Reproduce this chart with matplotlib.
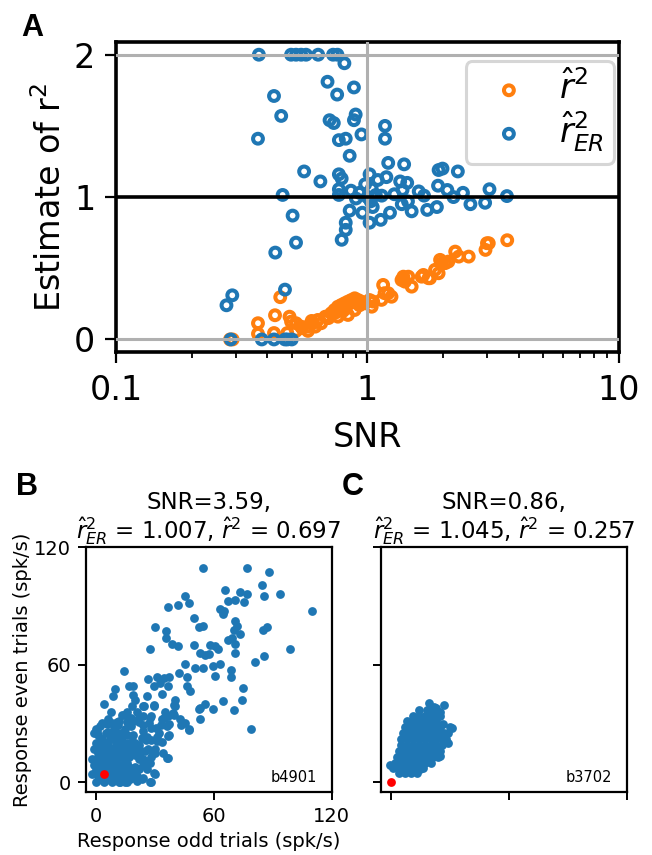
import matplotlib
matplotlib.use("Agg")
import matplotlib.pyplot as plt
import numpy as np

BLUE = "#1f77b4"
ORANGE = "#ff7f0e"

# ---- panel A: SNR vs estimates ----
snr_r2 = [0.284, 0.291, 0.367, 0.367, 0.429, 0.45, 0.425, 0.49, 0.497, 0.52, 0.545, 0.578,
          0.606, 0.48, 0.52, 0.55, 0.635, 0.655, 0.718, 0.74, 0.763, 0.787, 0.811, 0.837,
          0.863, 0.89, 0.918, 0.946, 0.975, 1.02, 1.054, 0.763, 0.837, 0.89, 0.70, 0.80,
          0.86, 0.96, 1.04, 1.138, 1.155, 1.17, 1.21, 1.247, 1.367, 1.39, 1.41, 1.455, 1.5,
          1.644, 1.67, 1.75, 1.775, 1.858, 1.92, 1.946, 1.976, 2.04, 2.10, 2.235, 2.31, 2.53,
          2.95, 2.99, 3.04, 3.6, 0.60, 0.68, 0.75, 0.82, 0.93, 0.58, 0.62]
r2 = [0.0, 0.0, 0.114, 0.04, 0.17, 0.297, 0.045, 0.16, 0.125, 0.114, 0.09, 0.09,
      0.114, 0.045, 0.06, 0.08, 0.137, 0.114, 0.184, 0.207, 0.23, 0.242, 0.254, 0.266,
      0.277, 0.289, 0.277, 0.266, 0.254, 0.277, 0.266, 0.16, 0.172, 0.207, 0.15, 0.20,
      0.257, 0.254, 0.23, 0.278, 0.383, 0.325, 0.325, 0.30, 0.418, 0.441, 0.406, 0.441, 0.371,
      0.441, 0.453, 0.43, 0.43, 0.489, 0.465, 0.559, 0.536, 0.536, 0.547, 0.617, 0.582, 0.582,
      0.629, 0.676, 0.676, 0.697, 0.13, 0.16, 0.19, 0.22, 0.24, 0.06, 0.09]

snr_er = [0.37, 0.497, 0.52, 0.545, 0.57, 0.637, 0.73, 0.76,
          0.81, 0.694, 0.884, 0.758, 0.425, 0.454, 0.707, 0.735, 0.898, 0.884, 1.175, 1.175,
          0.367, 0.77, 0.82, 0.947, 0.85, 1.21, 1.40, 0.56, 0.65, 0.77, 0.79, 1.02, 1.19,
          1.35, 1.44, 1.92, 1.99, 2.29, 0.46, 0.77, 0.77, 0.86, 0.93, 1.04, 1.08, 1.14, 1.38,
          1.68, 1.91, 2.08, 2.20, 2.40, 2.57, 2.94, 3.06, 3.59, 0.504, 0.52, 0.43, 0.85,
          0.955, 1.03, 1.05, 1.23, 1.37, 1.50, 1.73, 1.89, 1.02, 1.13, 0.82, 0.82, 0.79,
          0.47, 0.275, 0.29, 1.0, 0.98, 1.1, 1.28, 1.45, 1.6, 0.9,
          0.286, 0.38, 0.425, 0.47, 0.50, 0.48]
r2_er = [2.0, 2.0, 2.0, 2.0, 2.0, 2.0, 2.0, 2.0,
         1.94, 1.81, 1.77, 1.72, 1.71, 1.57, 1.54, 1.52, 1.58, 1.54, 1.50, 1.41,
         1.41, 1.40, 1.41, 1.44, 1.29, 1.24, 1.23, 1.18, 1.11, 1.16, 1.13, 1.16, 1.14,
         1.11, 1.10, 1.19, 1.20, 1.18, 1.015, 1.055, 1.015, 1.045, 1.03, 1.06, 1.015, 1.01, 1.05,
         1.01, 1.08, 1.05, 1.00, 1.03, 0.95, 0.96, 1.055, 1.007, 0.87, 0.68, 0.61, 0.905,
         0.89, 0.97, 0.93, 0.89, 0.95, 0.90, 0.91, 0.93, 0.82, 0.84, 0.82, 0.77, 0.70,
         0.35, 0.24, 0.31, 1.0, 1.09, 1.12, 1.02, 0.97, 1.04, 0.99,
         0.0, 0.0, 0.0, 0.0, 0.0, 0.0]

# ---- panel B: example neuron b4901 ----
b_odd = [54.4, 76.8, 87.8, 84.4, 93.4, 85.6, 110.1, 65.6, 73.4, 76.8, 67.4, 70.8, 75.1,
         45.4, 47.6, 42.0, 36.6, 63.2, 65.2, 64.6, 50.0, 54.4, 52.2, 70.8, 71.7, 70.0, 73.4,
         84.9, 86.9, 30.1, 35.6, 35.6, 27.6, 38.6, 41.7, 50.0, 57.8, 60.7, 67.0, 69.1, 70.8,
         61.9, 53.0, 55.6, 57.3, 70.8, 98.8, 81.0, 85.6, 45.4, 50.5, 54.7, 14.1, 59.8, 63.2,
         60.7, 68.6, 68.6, 42.5, 46.3, 46.3, 48.0, 26.4, 31.0, 34.4, 37.4, 36.9, 32.7, 29.3,
         19.1, 16.6, 9.8, 18.8, 8.9, 4.2, 24.2, 29.3, 33.5, 40.3, 40.3, 53.0, 55.6, 59.8,
         64.6, 70.0, 74.6, 74.2, 78.8, 53.0, 42.9, 45.4, 47.6, 33.5, 36.9, 39.1, 37.4, 30.7,
         27.6, 24.2, 21.7, 19.1, 15.7, 13.2, 7.6, 10.7, 5.6, 2.2, 0.5, 36.9, 33.5, 28.0,
         23.4, 18.3, 16.6, 12.4, 9.0, 6.4, 36.6, 30.1, 26.7, 22.6, 19.1, 15.7, 11.0, 27.6,
         25.9, 24.2, 21.7, 19.1, 17.5, 14.1, 30.1, 27.6, 23.4, 20.8, 15.7, 12.4,
         18.6, 24.6, 29.6, 39.8, 52.5, 39.8, 34.7, 27.9, 21.2, 14.4, 11.0, -0.9, 11.0,
         17.8, 23.7, 27.9, 36.4, 43.2, 47.5, 37.3, 31.3, 25.4, 19.5, 12.7, 16.1, 22.0,
         28.8, 36.4, 26.3, 21.2, 23.7, 29.6, 27.9,
         0, 1, 0, 2, 0, 1, 3, 3, 2, 4, 5, 4, 5, 6, 7, 6, 7, 8, 9, 8, 9, 10, 11, 11, 12,
         10, 13, 13, 14, 12, 2, 0, 4, 6, 8, 10, 12, 14, 3, 7, 11, 16, 16, 17, 15, 1, 5,
         9, 13, 18, 20, 22, 20, 18, 19, 15, -1, -1, 1, 3, 5, 7, 9, 11, 13, 15,
         2, 4, 6, 8, 10, 12, 14, 16, 18, 20, 22, 24, 26, 28, 30, 32, 34, 17, 21, 25,
         0, 3, 6, 9, 12, 15, 18, 21, 24, 27, 31, 33, 35, -2, -2, 1, 5, 7, 10, 14, 13,
         8, 16, 20, 26]
b_even = [109.2, 109.2, 107.2, 100.4, 96.0, 94.8, 87.2, 98.2, 97.3, 96.2, 92.6, 93.1, 91.7,
          94.8, 91.4, 90.4, 89.2, 88.3, 87.2, 86.0, 83.6, 79.9, 79.0, 82.4, 79.5, 77.8, 75.8,
          77.5, 79.2, 79.2, 77.1, 73.6, 67.9, 70.5, 69.3, 70.2, 70.2, 69.7, 72.7, 73.6, 70.7,
          67.9, 65.9, 65.1, 65.6, 65.9, 67.9, 61.2, 64.6, 60.2, 58.3, 58.3, 56.9, 59.1, 60.5,
          54.1, 57.4, 53.7, 55.7, 53.5, 48.9, 46.4, 52.7, 53.7, 53.2, 53.5, 48.9, 50.6, 48.9,
          48.9, 48.9, 47.7, 44.7, 43.9, 40.1, 39.1, 39.2, 45.2, 42.1, 39.1, 37.9, 40.1, 37.6,
          41.3, 36.7, 48.1, 42.1, 26.9, 32.0, 32.0, 30.3, 26.9, 32.0, 34.0, 35.4, 29.8, 27.7,
          32.8, 29.4, 30.6, 31.1, 30.6, 34.5, 35.7, 30.6, 29.9, 28.5, 26.0, 23.8, 20.4, 21.7,
          22.6, 23.5, 20.1, 21.7, 23.5, 25.5, 12.1, 15.0, 17.0, 15.0, 15.8, 15.0, 16.7, 9.9,
          6.5, 11.6, 6.5, 4.8, 1.7, 8.2, 4.4, 0.0, 1.7, 0.5, 0.3, 0.0,
          39.1, 39.1, 39.1, 39.6, 37.1, 34.5, 32.8, 33.6, 32.0, 34.5, 29.4, 25.2, 25.2,
          28.5, 26.0, 27.7, 28.5, 29.4, 26.8, 24.3, 20.9, 21.7, 20.1, 21.7, 16.7, 16.7,
          15.0, 12.4, 10.7, 6.5, 2.3, 4.9, 0.0,
          0, 3, 6, 9, 12, 15, 1, 5, 12, 0, 8, 11, 14, 2, 5, 10, 13, 0, 3, 7, 11, 15, 1, 6, 9,
          12, 3, 13, 6, 0, 18, 20, 17, 19, 17, 19, 18, 16, 22, 22, 22, 10, 4, 13, 0, 24, 25,
          26, 25, 18, 20, 12, 8, 2, 24, 20, 9, 17, 7, 14, 3, 9, 16, 13, 9, 12,
          16, 20, 14, 22, 9, 15, 18, 24, 6, 14, 19, 9, 23, 13, 17, 25, 15, 8, 3, 16,
          27, 30, 32, 28, 31, 27, 33, 36, 34, 30, 23, 29, 36, 4, 12, 20, 17, 1, 4, 2, 22,
          30, 36, 42, 44]

# ---- panel C: example neuron b3702 ----
c_odd = [4, 7, 10, 13,
         1, 4, 7, 10, 13, 16,
         2, 5, 8, 11, 14, 17, 20,
         3, 6, 9, 12, 15, 18, 21, 24,
         4, 7, 10, 13, 16, 19, 22, 25,
         5, 8, 11, 14, 17, 20, 23, 26, 29,
         5, 8, 11, 14, 17, 20, 23, 26, 28,
         6, 9, 12, 15, 18, 21, 24, 27, 29,
         7, 10, 13, 16, 19, 22, 25, 30,
         8, 11, 14, 17, 20, 23, 25,
         11, 14, 17, 20, 23, 25,
         14, 18, 21, 23,
         19, 27, 30.8, -0.5, 24.8, 14.7,
         2.5, 5.5, 8.5, 11.5, 18.5, 22.5, 26.5, 9.5, 15.5, 21.5]
c_even = [4.5, 4.5, 4.5, 4.5,
          7, 7, 7, 7, 7, 7,
          10, 10, 10, 10, 10, 10, 10,
          13, 13, 13, 13, 13, 13, 13, 13,
          16, 16, 16, 16, 16, 16, 16, 16,
          19, 19, 19, 19, 19, 19, 19, 19, 20,
          22, 22, 22, 22, 22, 22, 22, 22, 22,
          25, 25, 25, 25, 25, 25, 25, 25, 25,
          28, 28, 28, 28, 28, 28, 28, 28,
          31, 31, 31, 31, 31, 31, 33.6,
          34, 34, 34, 34, 34, 36,
          37, 37, 37, 38,
          40.5, 39.6, 27.7, 9, 13.3, 6.5,
          8.5, 11.5, 14.5, 17.5, 23.5, 26.5, 29.5, 26.5, 32.5, 38.5]

b_red = (4.2, 4.3)
c_red = (0.0, 0.0)

fig = plt.figure(figsize=(6.52, 8.55), dpi=100)

# panel A
axA = fig.add_axes([0.178, 0.588, 0.771, 0.363])
axA.scatter(snr_r2, r2, s=50, facecolors="none", edgecolors=ORANGE, linewidths=2.9,
            label=r"$\hat{r}^2$", zorder=2)
axA.scatter(snr_er, r2_er, s=50, facecolors="none", edgecolors=BLUE, linewidths=2.9,
            label=r"$\hat{r}^2_{ER}$", zorder=3)
axA.axhline(0, color="#b0b0b0", lw=2.2, zorder=4)
axA.axhline(2, color="#b0b0b0", lw=2.2, zorder=4)
axA.axvline(1, color="#b0b0b0", lw=2.2, zorder=4)
axA.axhline(1, color="black", lw=2.6, zorder=5)
axA.set_xscale("log")
axA.set_xlim(0.1, 10)
axA.set_ylim(-0.09, 2.09)
axA.set_yticks([0, 1, 2])
axA.set_yticklabels(["0", "1", "2"])
axA.set_xticks([0.1, 1, 10])
axA.set_xticklabels(["0.1", "1", "10"])
axA.tick_params(axis="both", which="major", labelsize=24, length=8, width=1.6)
axA.tick_params(axis="x", which="major", pad=8)
axA.tick_params(axis="y", which="major", pad=7)
axA.tick_params(axis="x", which="minor", length=4, width=1.3)
for sp in axA.spines.values():
    sp.set_linewidth(2.6)
axA.set_xlabel("SNR", fontsize=24, labelpad=10)
axA.set_ylabel(r"Estimate of r$^2$", fontsize=24, labelpad=4)
leg = axA.legend(loc="upper right", fontsize=24, handletextpad=0.5, borderpad=0.3,
                 labelspacing=0.1, handlelength=2.0, bbox_to_anchor=(1.0, 0.955),
                 borderaxespad=0.15)
leg.get_frame().set_linewidth(2.2)

fig.text(0.032, 0.958, "A", fontsize=22, fontweight="bold", family="Liberation Sans")

# panels B and C
def scatter_panel(ax, xs, ys, red, tag, title, show_labels):
    ax.scatter(xs, ys, s=40, color=BLUE, linewidths=0, zorder=2)
    ax.scatter([red[0]], [red[1]], s=40, color="red", linewidths=0, zorder=3)
    ax.set_xlim(-5, 120)
    ax.set_ylim(-5, 120)
    ax.set_xticks([0, 60, 120])
    ax.set_yticks([0, 60, 120])
    ax.tick_params(labelsize=14, length=6, width=1.4, pad=5)
    for sp in ax.spines.values():
        sp.set_linewidth(1.6)
    if show_labels:
        ax.set_xlabel("Response odd trials (spk/s)", fontsize=14, labelpad=4)
        ax.set_ylabel("Response even trials (spk/s)", fontsize=14, labelpad=1)
    else:
        ax.set_xticklabels([])
        ax.set_yticklabels([])
    ax.text(0.94, 0.03, tag, transform=ax.transAxes, ha="right", va="bottom", fontsize=10.5)
    ax.set_title(title, fontsize=16.5, pad=5, linespacing=1.05)

axB = fig.add_axes([0.132, 0.0737, 0.377, 0.2865])
scatter_panel(axB, b_odd, b_even, b_red, "b4901",
              "SNR=3.59,\n" + r"$\hat{r}^2_{ER}$ = 1.007, $\hat{r}^2$ = 0.697", True)
axC = fig.add_axes([0.585, 0.0737, 0.377, 0.2865])
scatter_panel(axC, c_odd, c_even, c_red, "b3702",
              "SNR=0.86,\n" + r"$\hat{r}^2_{ER}$ = 1.045, $\hat{r}^2$ = 0.257", False)

fig.text(0.024, 0.421, "B", fontsize=22, fontweight="bold", family="Liberation Sans")
fig.text(0.524, 0.421, "C", fontsize=22, fontweight="bold", family="Liberation Sans")

fig.savefig("out.png", dpi=100)
